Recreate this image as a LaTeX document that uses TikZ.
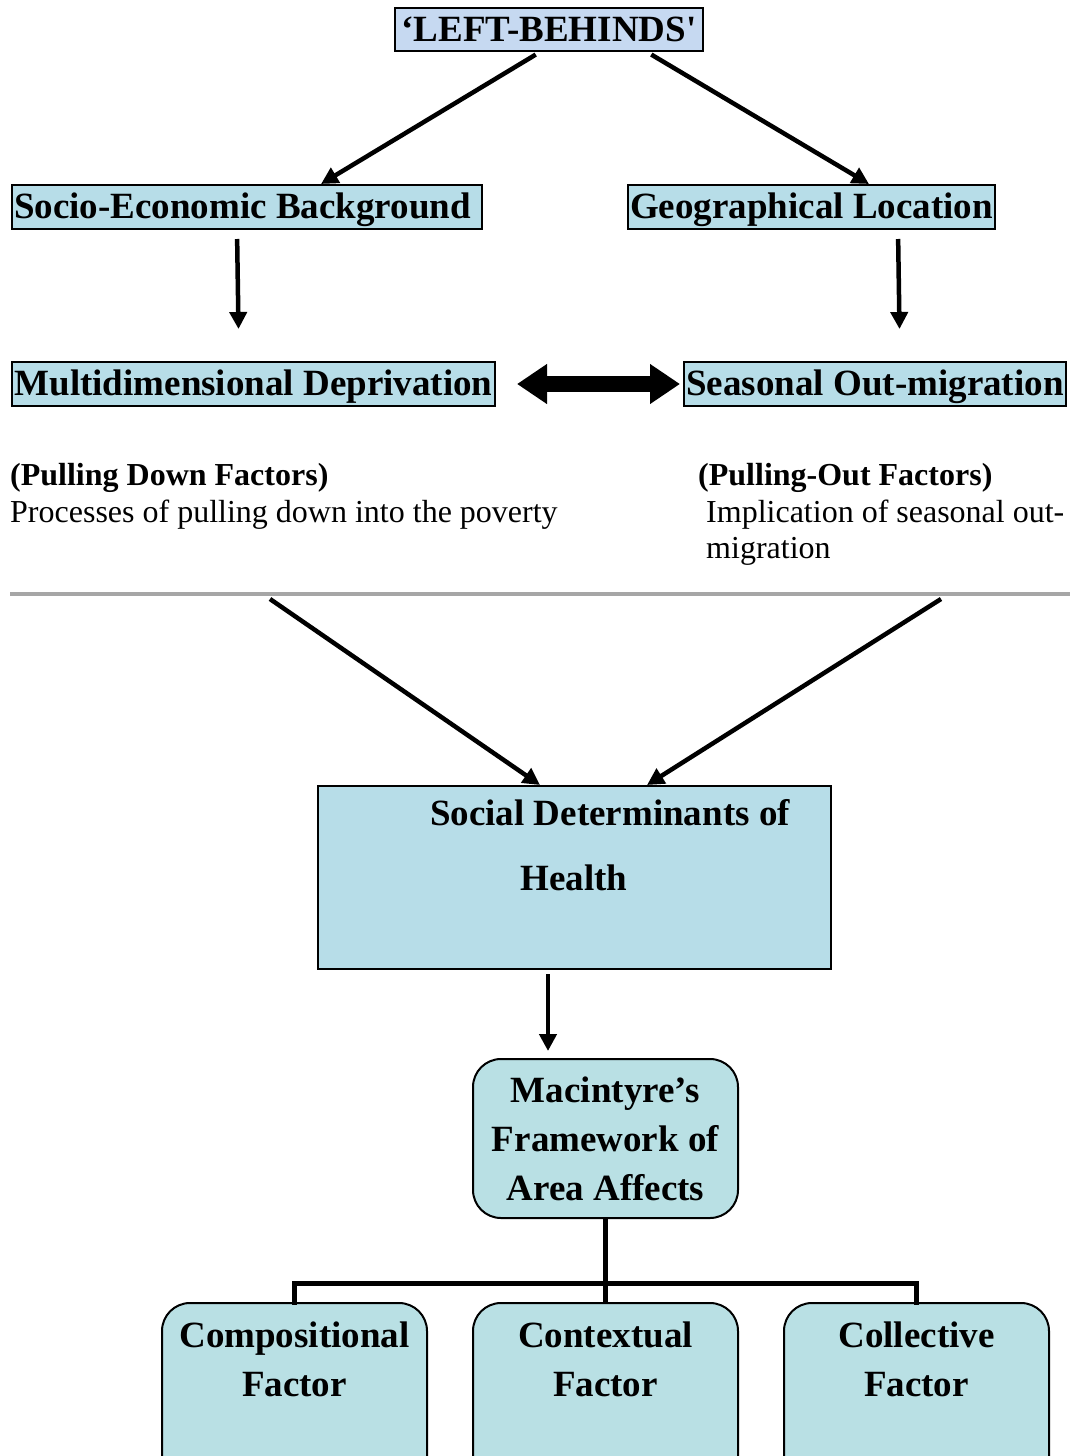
\documentclass[tikz,border=0pt]{standalone}
\usepackage{fontspec}
\setmainfont{Liberation Serif}
\usetikzlibrary{arrows.meta,positioning}

\definecolor{hdlav}{HTML}{C6D9F1}
\definecolor{hdblue}{HTML}{B7DDE8}
\definecolor{frblue}{HTML}{B9E0E4}
\definecolor{rulegray}{HTML}{A6A6A6}

\newcommand{\hdfont}{\fontsize{37}{49}\selectfont\bfseries}
\newcommand{\subfont}{\fontsize{32}{37}\selectfont\bfseries}
\newcommand{\txtfont}{\fontsize{32}{37}\selectfont}

\tikzset{
  hdbox/.style={draw, line width=2pt, fill=hdblue, inner xsep=1pt, inner ysep=0pt,
    minimum height=44pt, text height=28pt, text depth=5pt, font=\hdfont, anchor=west},
  frbox/.style={draw, line width=2pt, fill=frblue, rounded corners=28pt,
    minimum width=265pt, font=\hdfont, align=center, inner sep=0pt},
  frtext/.style={font=\hdfont, align=center, inner sep=0pt},
  note/.style={anchor=base west, inner sep=0pt},
  link/.style={line width=4.5pt, -{Triangle[length=17pt,width=17pt]}},
  twoway/.style={line width=16pt, {Triangle[length=30pt,width=38pt]}-{Triangle[length=30pt,width=38pt]}},
  tree/.style={line width=5pt}
}

\begin{document}
\begin{tikzpicture}[x=1pt,y=-1pt]
\clip (0,0) rectangle (1070,1456);
\fill[white] (0,0) rectangle (1070,1456);

% top part
\node[hdbox, fill=hdlav, anchor=center, minimum width=308pt, minimum height=43pt] (lb) at (549,29.5) {‘LEFT-BEHINDS\textquotesingle};

\node[hdbox, minimum width=470pt] (seb) at (11,207) {\makebox[466pt][l]{Socio-Economic Background}};
\node[hdbox, minimum width=367pt] (geo) at (627,207) {Geographical Location};
\node[hdbox, minimum width=483pt] (mdd) at (11,384) {Multidimensional Deprivation};
\node[hdbox, minimum width=382pt] (som) at (683,384) {Seasonal Out-migration};

\draw[link, shorten <=5pt] ([xshift=-9pt]lb.south) -- ([xshift=74pt]seb.north);
\draw[link, shorten <=5pt] ([xshift=98pt]lb.south) -- ([xshift=57.5pt]geo.north);
\draw[link, shorten <=9pt, shorten >=32pt] ([xshift=-10pt]seb.south) -- ([xshift=-14.5pt]mdd.north);
\draw[link, shorten <=9pt, shorten >=32pt] ([xshift=86.5pt]geo.south) -- ([xshift=25pt]som.north);
\draw[twoway, shorten <=21pt, shorten >=3pt] (mdd.east) -- (som.west);

% factors
\node[note, font=\subfont] (pdf) at (10,485) {(Pulling Down Factors)};
\node[note, font=\txtfont] (pdp) at (10,522) {Processes of pulling down into the poverty};
\node[note, font=\subfont] (pof) at (698,485) {(Pulling-Out Factors)};
\node[note, font=\txtfont] (pop1) at (706,522) {Implication of seasonal out-};
\node[note, font=\txtfont] (pop2) at (706,558) {migration};

\coordinate (ruleL) at (10,594);
\coordinate (ruleR) at (1070,594);
\draw[rulegray, line width=4pt] (ruleL) -- (ruleR);

% social determinants
\node[draw, line width=2pt, fill=hdblue, minimum width=513pt, minimum height=183pt, inner sep=0pt] (sdh) at (574.5,877.5) {};
\node[note, anchor=base, font=\hdfont] (sdh1) at (610,825) {Social Determinants of};
\node[note, anchor=base, font=\hdfont] (sdh2) at (574,890) {Health};

\coordinate (ra) at (270,599);
\coordinate (rb) at (941,599);
\draw[link] (ra) -- ([xshift=-34.5pt]sdh.north);
\draw[link] (rb) -- ([xshift=72.5pt]sdh.north);

% Macintyre
\node[frbox, minimum height=159pt] (mac) at (605.5,1138.5) {Macintyre’s\\Framework of\\Area Affects};
\draw[link, shorten <=4pt, shorten >=7pt] ([xshift=-57.5pt]mac.north |- sdh.south) -- ([xshift=-57.5pt]mac.north);

\node[frbox, minimum height=190pt, anchor=north] (cmp) at (294.5,1302) {};
\node[frbox, minimum height=190pt, anchor=north] (ctx) at (605.5,1302) {};
\node[frbox, minimum height=190pt, anchor=north] (col) at (916.5,1302) {};
\node[frtext] (cmpt) at (294.5,1359) {Compositional\\Factor};
\node[frtext] (ctxt) at (605.5,1359) {Contextual\\Factor};
\node[frtext] (colt) at (916.5,1359) {Collective\\Factor};

\draw[tree] (mac.south) -- (ctx.north);
\draw[tree, line cap=rect] (cmp.north) -- ++(0,-19) -| (col.north);
\end{tikzpicture}
\end{document}
